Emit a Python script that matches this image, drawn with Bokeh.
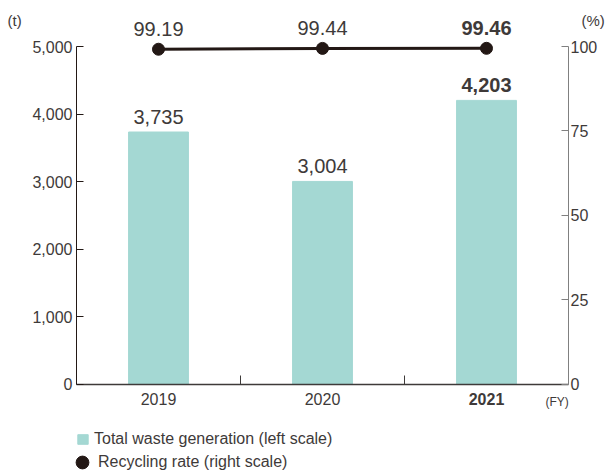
from bokeh.plotting import figure
from bokeh.models import (ColumnDataSource, Range1d, LinearAxis, FixedTicker,
                          NumeralTickFormatter, LabelSet, Label, Legend, LegendItem)
from bokeh.core.properties import value
from bokeh.embed import file_html
from bokeh.resources import INLINE

# ---- data ----
years = ["2019", "2020", "2021"]
waste = [3735, 3004, 4203]
waste_labels = ["3,735", "3,004", "4,203"]
rate = [99.19, 99.44, 99.46]
rate_labels = ["99.19", "99.44", "99.46"]
styles = ["normal", "normal", "bold"]
left_ticks = [0, 1000, 2000, 3000, 4000, 5000]
right_ticks = [0, 25, 50, 75, 100]

FONT = "Liberation Sans"
TXT = "#3e3a39"
BAR = "#a4d8d3"
DARK = "#231815"

xs = list(range(len(years)))
src = ColumnDataSource(dict(x=xs, year=years, waste=waste, wlab=waste_labels,
                            rate=rate, rlab=rate_labels, style=styles))

# frame covers the whole canvas; axes are pinned at fixed locations
p = figure(width=616, height=474, output_backend="svg", toolbar_location=None,
           x_range=Range1d(-0.9634, 2.7927), y_range=Range1d(-1331.4, 5680.5),
           min_border=0, x_axis_type=None, y_axis_type=None)
p.outline_line_color = None
p.grid.visible = False
p.extra_y_ranges = {"pct": Range1d(-26.63, 113.61)}

bars = p.vbar(x="x", top="waste", width=0.365, color=BAR, source=src)
ln = p.line(x="x", y="rate", y_range_name="pct", line_color=DARK, line_width=3, source=src)
pts = p.scatter(x="x", y="rate", y_range_name="pct", size=12, color=DARK, source=src)

# x axis
xa = LinearAxis(ticker=FixedTicker(ticks=[0.5, 1.5]), fixed_location=0, bounds=(-0.5, 2.5))
xa.major_label_text_font_size = "0px"
xa.major_label_text_color = None
xa.major_tick_in = 9
xa.major_tick_out = 0
xa.minor_tick_line_color = None
xa.axis_line_color = "#3e3a39"
xa.major_tick_line_color = "#3e3a39"
xa.axis_line_width = 1.3
p.add_layout(xa, "below")

# left axis
ya = LinearAxis(ticker=FixedTicker(ticks=left_ticks), fixed_location=-0.5, bounds=(0, 5000),
                formatter=NumeralTickFormatter(format="0,0"))
ya.major_tick_in = 7
ya.major_tick_out = 0
ya.minor_tick_line_color = None
ya.axis_line_color = DARK
ya.major_tick_line_color = DARK
ya.major_label_text_font = FONT
ya.major_label_text_font_size = "16px"
ya.major_label_text_color = TXT
ya.major_label_standoff = 4
p.add_layout(ya, "left")

# right axis
ra = LinearAxis(y_range_name="pct", ticker=FixedTicker(ticks=right_ticks),
                fixed_location=2.5, bounds=(0, 100))
ra.major_tick_in = 7
ra.major_tick_out = 0
ra.minor_tick_line_color = None
ra.axis_line_color = "#808080"
ra.major_tick_line_color = "#808080"
ra.major_label_text_font = FONT
ra.major_label_text_font_size = "16px"
ra.major_label_text_color = TXT
ra.major_label_standoff = 2
p.add_layout(ra, "right")

# value labels
p.add_layout(LabelSet(x="x", y="waste", text="wlab", source=src, text_align="center",
                      text_baseline="middle", y_offset=15, text_font=value(FONT),
                      text_font_size="20px", text_color=TXT, text_font_style="style"))
p.add_layout(LabelSet(x="x", y="rate", y_range_name="pct", text="rlab", source=src,
                      text_align="center", text_baseline="middle", y_offset=20,
                      text_font=value(FONT), text_font_size="20px", text_color=TXT,
                      text_font_style="style"))
# year labels
p.add_layout(LabelSet(x="x", y=0, text="year", source=src, y_offset=-15,
                      text_align="center", text_baseline="middle", text_font=value(FONT),
                      text_font_size="16px", text_color=TXT, text_font_style="style"))

# unit labels
p.add_layout(Label(x=-0.5, y=5000, x_offset=-69, y_offset=26, text="(t)",
                   text_font=FONT, text_font_size="15px", text_color=TXT,
                   text_baseline="middle"))
p.add_layout(Label(x=2.5, y=5000, x_offset=13, y_offset=26, text="(%)",
                   text_font=FONT, text_font_size="15px", text_color=TXT,
                   text_baseline="middle"))
p.add_layout(Label(x=2.5, y=0, x_offset=-23, y_offset=-18, text="(FY)",
                   text_font=FONT, text_font_size="12px", text_color=TXT,
                   text_baseline="middle"))

# legends
legend_a = Legend(items=[LegendItem(label="Total waste generation (left scale)", renderers=[bars])],
                  location=(76, 26), orientation="vertical",
                  label_text_font=FONT, label_text_font_size="16px",
                  label_text_color=TXT, glyph_width=13, glyph_height=12, label_height=18,
                  spacing=0, padding=0, margin=0, label_standoff=5,
                  border_line_color=None, background_fill_alpha=0)
legend_b = Legend(items=[LegendItem(label="Recycling rate (right scale)", renderers=[pts])],
                  location=(66, -4), orientation="vertical",
                  label_text_font=FONT, label_text_font_size="16px",
                  label_text_color=TXT, glyph_width=32, glyph_height=32, label_height=18,
                  spacing=0, padding=0, margin=0, label_standoff=-7,
                  border_line_color=None, background_fill_alpha=0)
p.add_layout(legend_a, "center")
p.add_layout(legend_b, "center")

open("out.html", "w").write(file_html(p, INLINE))
